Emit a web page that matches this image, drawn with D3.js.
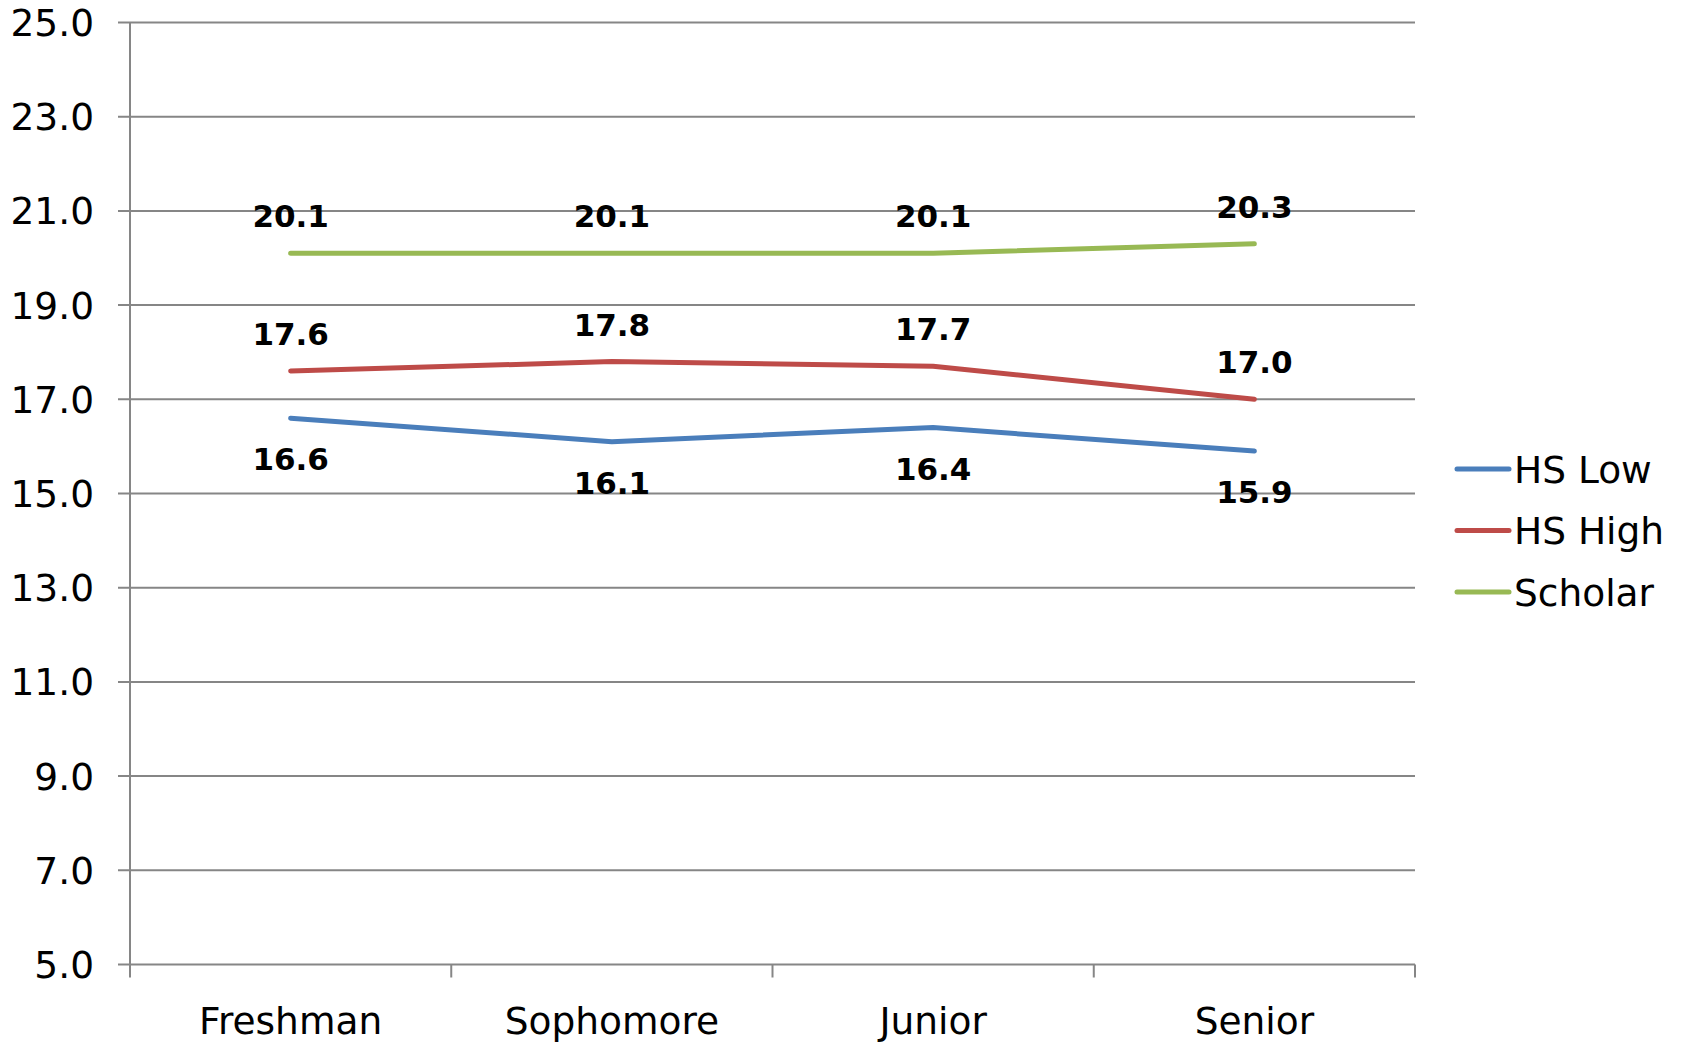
<!DOCTYPE html>
<html>
<head>
<meta charset="utf-8">
<script src="https://cdn.jsdelivr.net/npm/d3@7"></script>
<style>
  html, body { margin: 0; padding: 0; background: #fff; }
  #chart-container { width: 1684px; height: 1045px; }
  text { font-family: "DejaVu Sans", Verdana, sans-serif; fill: #000; }
</style>
</head>
<body>
<div id="chart-container"></div>
<script>
const categories = ["Freshman", "Sophomore", "Junior", "Senior"];
const seriesNames = ["HS Low", "HS High", "Scholar"];
const hsLow = [16.6, 16.1, 16.4, 15.9];
const hsHigh = [17.6, 17.8, 17.7, 17.0];
const scholar = [20.1, 20.1, 20.1, 20.3];
const yTicks = [5, 7, 9, 11, 13, 15, 17, 19, 21, 23, 25];
const colors = ["#4A7EBB", "#BE4B48", "#98B954"];
// label placement per series: below for HS Low, above for others
const labelSide = ["below", "above", "above"];

(function() {
  const width = 1684, height = 1045;
  const plot = { left: 130, right: 1415, top: 22.5, bottom: 964.5 };

  const svg = d3.select("#chart-container")
    .append("svg")
    .attr("width", width)
    .attr("height", height);

  const xScale = d3.scaleBand()
    .domain(categories)
    .range([plot.left, plot.right])
    .paddingInner(0).paddingOuter(0);

  const yScale = d3.scaleLinear()
    .domain([5, 25])
    .range([plot.bottom, plot.top]);

  const cx = c => xScale(c) + xScale.bandwidth() / 2;

  // horizontal gridlines
  svg.append("g")
    .selectAll("line")
    .data(yTicks)
    .enter()
    .append("line")
    .attr("x1", plot.left - 12)
    .attr("x2", plot.right)
    .attr("y1", d => yScale(d))
    .attr("y2", d => yScale(d))
    .attr("stroke", "#868686")
    .attr("stroke-width", 2);

  // y axis line
  svg.append("line")
    .attr("x1", plot.left).attr("x2", plot.left)
    .attr("y1", plot.top).attr("y2", plot.bottom)
    .attr("stroke", "#868686")
    .attr("stroke-width", 2);

  // y tick labels
  svg.append("g")
    .selectAll("text")
    .data(yTicks)
    .enter()
    .append("text")
    .attr("x", 94)
    .attr("y", d => yScale(d))
    .attr("dy", "0.36em")
    .attr("text-anchor", "end")
    .style("font-size", "37.5px")
    .text(d => d.toFixed(1));

  // x tick marks at band boundaries
  const bounds = categories.map(c => xScale(c)).concat([plot.right]);
  svg.append("g")
    .selectAll("line")
    .data(bounds)
    .enter()
    .append("line")
    .attr("x1", d => d).attr("x2", d => d)
    .attr("y1", plot.bottom).attr("y2", plot.bottom + 13)
    .attr("stroke", "#868686")
    .attr("stroke-width", 2);

  // x labels
  svg.append("g")
    .selectAll("text")
    .data(categories)
    .enter()
    .append("text")
    .attr("x", d => cx(d))
    .attr("y", 1034)
    .attr("text-anchor", "middle")
    .style("font-size", "37.5px")
    .text(d => d);

  const series = [hsLow, hsHigh, scholar].map((vals, i) => ({
    name: seriesNames[i],
    color: colors[i],
    side: labelSide[i],
    values: vals.map((v, j) => ({ cat: categories[j], value: v }))
  }));

  const line = d3.line()
    .x(d => cx(d.cat))
    .y(d => yScale(d.value));

  svg.append("g")
    .selectAll("path")
    .data(series)
    .enter()
    .append("path")
    .attr("d", d => line(d.values))
    .attr("fill", "none")
    .attr("stroke", d => d.color)
    .attr("stroke-width", 5)
    .attr("stroke-linecap", "round")
    .attr("stroke-linejoin", "round");

  // data labels
  series.forEach(s => {
    svg.append("g")
      .selectAll("text")
      .data(s.values)
      .enter()
      .append("text")
      .attr("x", d => cx(d.cat))
      .attr("y", d => yScale(d.value) + (s.side === "above" ? -26 : 52))
      .attr("text-anchor", "middle")
      .style("font-size", "31px")
      .style("font-weight", "bold")
      .text(d => d.value.toFixed(1));
  });

  // legend
  const legend = svg.append("g")
    .attr("transform", "translate(1457, 469)");

  legend.selectAll("g")
    .data(series)
    .enter()
    .append("g")
    .attr("transform", (d, i) => `translate(0, ${i * 61.5})`)
    .call(g => {
      g.append("line")
        .attr("x1", 0).attr("x2", 52)
        .attr("y1", 0).attr("y2", 0)
        .attr("stroke", d => d.color)
        .attr("stroke-width", 5)
        .attr("stroke-linecap", "round");
      g.append("text")
        .attr("x", 57)
        .attr("y", 0)
        .attr("dy", "0.36em")
        .style("font-size", "37.5px")
        .text(d => d.name);
    });
})();
</script>
</body>
</html>
